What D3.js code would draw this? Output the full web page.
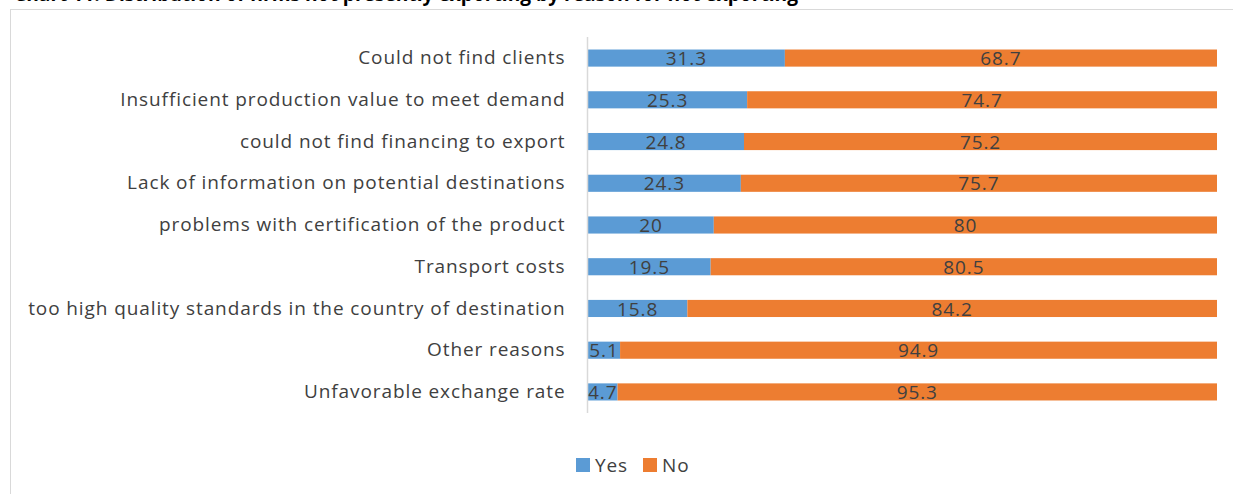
<!DOCTYPE html>
<html>
<head>
<meta charset="utf-8">
<script src="https://cdn.jsdelivr.net/npm/d3@7"></script>
<style>
  body { margin: 0; background: #fff; }
  text { font-family: "Open Sans", Lato, sans-serif; }
</style>
</head>
<body>
<script>
var categories = [
  "Could not find clients",
  "Insufficient production value to meet demand",
  "could not find financing to export",
  "Lack of information on potential destinations",
  "problems with certification of the product",
  "Transport costs",
  "too high quality standards in the country of destination",
  "Other reasons",
  "Unfavorable exchange rate"
];
var yesValues = [31.3, 25.3, 24.8, 24.3, 20, 19.5, 15.8, 5.1, 4.7];
var noValues  = [68.7, 74.7, 75.2, 75.7, 80, 80.5, 84.2, 94.9, 95.3];
var seriesNames = ["Yes", "No"];

var width = 1233, height = 494;
var colors = {"Yes": "#5b9bd5", "No": "#ed7d31"};
var textColor = "#404040";
var fontSize = 19;
var spacing = "0.9px";

var svg = d3.select("body").append("svg")
    .attr("width", width)
    .attr("height", height);

// title, mostly cut off above the frame as in the source
svg.append("text")
    .attr("x", 14)
    .attr("y", 0.5)
    .attr("font-weight", "bold")
    .attr("font-size", 19)
    .attr("fill", "#000")
    .attr("textLength", 784)
    .attr("lengthAdjust", "spacingAndGlyphs")
    .text("Chart 11: Distribution of firms not presently exporting by reason for not exporting");

// chart frame
svg.append("rect")
    .attr("x", 10.5)
    .attr("y", 9.5)
    .attr("width", 1240)
    .attr("height", 500)
    .attr("fill", "#fff")
    .attr("stroke", "#d9d9d9");

var x = d3.scaleLinear().domain([0, 100]).range([588, 1217]);
var y = d3.scaleBand().domain(categories).range([37, 413]).paddingInner(0.59).paddingOuter(0.3);

var rows = categories.map(function(c, i) {
  return {cat: c, Yes: yesValues[i], No: noValues[i]};
});
var stack = d3.stack().keys(seriesNames)(rows);

var g = svg.append("g");

g.selectAll("g.series")
  .data(stack)
  .enter().append("g")
    .attr("class", "series")
    .attr("fill", function(d) { return colors[d.key]; })
  .selectAll("rect")
  .data(function(d) { return d; })
  .enter().append("rect")
    .attr("x", function(d) { return x(d[0]); })
    .attr("y", function(d) { return y(d.data.cat); })
    .attr("width", function(d) { return x(d[1]) - x(d[0]); })
    .attr("height", y.bandwidth());

// data labels
stack.forEach(function(s) {
  g.selectAll(null)
    .data(s)
    .enter().append("text")
      .attr("x", function(d) { return (x(d[0]) + x(d[1])) / 2; })
      .attr("y", function(d) { return y(d.data.cat) + y.bandwidth() / 2; })
      .attr("dy", "0.38em")
      .attr("text-anchor", "middle")
      .attr("font-size", fontSize)
      .attr("letter-spacing", spacing)
      .attr("fill", textColor)
      .text(function(d) { return d.data[s.key]; });
});

// vertical axis
var yAxis = svg.append("g")
    .attr("transform", "translate(" + 587.5 + ",0)")
    .call(d3.axisLeft(y).tickSize(0).tickPadding(22));
yAxis.select(".domain").attr("stroke", "#d9d9d9").attr("stroke-width", 1.5)
    .attr("d", "M0,37V413");
yAxis.selectAll("text")
    .attr("font-size", fontSize)
    .attr("letter-spacing", spacing)
    .attr("font-family", "'Open Sans', Lato, sans-serif")
    .attr("fill", textColor);

// legend
var legend = svg.append("g");
var legendX = [576, 643];
seriesNames.forEach(function(name, i) {
  legend.append("rect")
    .attr("x", legendX[i])
    .attr("y", 458)
    .attr("width", 14)
    .attr("height", 14)
    .attr("fill", colors[name]);
  legend.append("text")
    .attr("x", legendX[i] + 19)
    .attr("y", 472)
    .attr("font-size", fontSize)
    .attr("letter-spacing", spacing)
    .attr("fill", textColor)
    .text(name);
});
</script>
</body>
</html>
